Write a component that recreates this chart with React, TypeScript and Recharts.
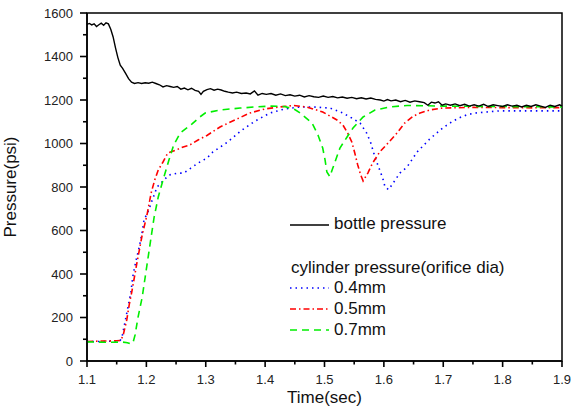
import { LineChart, Line, XAxis, YAxis, ReferenceArea, Legend } from 'recharts'

// time (sec) / pressure (psi)
const bottleTime = [
  1.1, 1.104, 1.108, 1.112, 1.116, 1.12, 1.124, 1.128, 1.132, 1.136, 1.14, 1.144, 1.148, 1.152, 1.156, 1.16,
  1.165, 1.17, 1.175, 1.18, 1.186, 1.192, 1.198, 1.204, 1.21, 1.216, 1.222, 1.228, 1.234, 1.24, 1.246, 1.252,
  1.258, 1.264, 1.27, 1.276, 1.282, 1.288, 1.292, 1.296, 1.302, 1.308, 1.314, 1.32, 1.326, 1.332, 1.338, 1.345,
  1.352, 1.36, 1.368, 1.375, 1.382, 1.388, 1.395, 1.402, 1.41, 1.418, 1.426, 1.434, 1.442, 1.45, 1.458, 1.466,
  1.474, 1.482, 1.49, 1.498, 1.506, 1.514, 1.522, 1.53, 1.538, 1.546, 1.554, 1.562, 1.57, 1.578, 1.586, 1.594,
  1.6, 1.606, 1.612, 1.62, 1.628, 1.636, 1.644, 1.652, 1.66, 1.668, 1.674, 1.68, 1.686, 1.692, 1.698, 1.704,
  1.712, 1.72, 1.728, 1.736, 1.744, 1.752, 1.76, 1.768, 1.776, 1.784, 1.792, 1.8, 1.808, 1.816, 1.824, 1.832,
  1.84, 1.848, 1.856, 1.864, 1.872, 1.88, 1.888, 1.896, 1.9,
]
const bottlePressure = [
  1548, 1552, 1545, 1550, 1538, 1546, 1553, 1544, 1555, 1550, 1525, 1490, 1440, 1395, 1360, 1345,
  1322, 1298, 1282, 1276, 1280, 1276, 1279, 1277, 1282, 1276, 1270, 1260, 1266, 1262, 1258, 1262,
  1250, 1255, 1247, 1254, 1244, 1240, 1226, 1240, 1248, 1252, 1245, 1250, 1246, 1240, 1236, 1232,
  1236, 1230, 1232, 1228, 1242, 1222, 1230, 1226, 1230, 1222, 1228, 1220, 1224, 1218, 1222, 1214,
  1220, 1215, 1212, 1218, 1212, 1216, 1210, 1214, 1208, 1212, 1206, 1210, 1205, 1209, 1203, 1200,
  1195, 1202, 1196, 1200, 1192, 1198, 1190, 1196, 1192, 1188, 1176, 1190, 1186, 1192, 1176, 1182,
  1176, 1182, 1174, 1180, 1172, 1178, 1172, 1180, 1170, 1178, 1174, 1170, 1178, 1172, 1176, 1168,
  1176, 1170, 1178, 1172, 1166, 1176, 1170, 1178, 1172,
]

const d04Time = [
  1.1, 1.13, 1.15, 1.156, 1.159, 1.164, 1.169, 1.174, 1.177, 1.182, 1.188, 1.193, 1.196, 1.204, 1.208, 1.218,
  1.228, 1.238, 1.253, 1.263, 1.275, 1.287, 1.302, 1.312, 1.337, 1.359, 1.383, 1.408, 1.433, 1.459, 1.48, 1.509,
  1.531, 1.546, 1.56, 1.571, 1.578, 1.583, 1.588, 1.593, 1.598, 1.602, 1.608, 1.619, 1.627, 1.639, 1.656, 1.677,
  1.699, 1.714, 1.726, 1.739, 1.753, 1.773, 1.795, 1.85, 1.9,
]
const d04Pressure = [
  90, 90, 92, 95, 110, 179, 248, 317, 386, 455, 524, 593, 648, 694, 726, 800,
  828, 855, 864, 864, 887, 910, 933, 961, 1007, 1058, 1103, 1140, 1159, 1168, 1168, 1163,
  1140, 1117, 1094, 1048, 1002, 956, 915, 878, 841, 800, 788, 832, 864, 892, 961, 1020,
  1071, 1099, 1117, 1131, 1140, 1145, 1150, 1150, 1150,
]

const d05Time = [
  1.1, 1.13, 1.15, 1.157, 1.161, 1.167, 1.171, 1.176, 1.184, 1.193, 1.201, 1.208, 1.214, 1.22, 1.228, 1.236,
  1.25, 1.262, 1.273, 1.287, 1.302, 1.324, 1.349, 1.374, 1.4, 1.425, 1.447, 1.47, 1.497, 1.521, 1.531, 1.539,
  1.546, 1.551, 1.556, 1.561, 1.565, 1.573, 1.581, 1.593, 1.607, 1.622, 1.635, 1.649, 1.661, 1.677, 1.699, 1.75,
  1.8, 1.85, 1.9,
]
const d05Pressure = [
  90, 92, 93, 95, 120, 189, 257, 326, 450, 580, 671, 772, 832, 878, 915, 956,
  970, 984, 993, 1016, 1037, 1076, 1108, 1140, 1159, 1168, 1175, 1168, 1145, 1108, 1085, 1048,
  1007, 956, 901, 855, 828, 864, 910, 961, 1002, 1048, 1094, 1125, 1140, 1154, 1163, 1166,
  1165, 1164, 1165,
]

const d07Time = [
  1.1, 1.13, 1.16, 1.168, 1.174, 1.178, 1.181, 1.186, 1.193, 1.198, 1.203, 1.209, 1.213, 1.22, 1.228, 1.238,
  1.246, 1.257, 1.277, 1.29, 1.299, 1.324, 1.358, 1.383, 1.408, 1.433, 1.45, 1.459, 1.479, 1.489, 1.497, 1.501,
  1.504, 1.509, 1.514, 1.526, 1.538, 1.548, 1.565, 1.585, 1.61, 1.639, 1.7, 1.8, 1.9,
]
const d07Pressure = [
  88, 86, 87, 84, 78, 90, 120, 202, 294, 386, 478, 588, 660, 754, 832, 924,
  993, 1048, 1090, 1122, 1140, 1154, 1163, 1168, 1172, 1170, 1156, 1140, 1094, 1039, 979, 924,
  869, 848, 887, 979, 1030, 1071, 1122, 1154, 1168, 1175, 1172, 1170, 1168,
]

const xTicks = [1.1, 1.15, 1.2, 1.25, 1.3, 1.35, 1.4, 1.45, 1.5, 1.55, 1.6, 1.65, 1.7, 1.75, 1.8, 1.85, 1.9]
const yTicks = [0, 100, 200, 300, 400, 500, 600, 700, 800, 900, 1000, 1100, 1200, 1300, 1400, 1500, 1600]

const zip = (t: number[], p: number[]) => t.map((v, i) => ({ t: v, p: p[i] }))

const bottle = { name: 'bottle pressure', color: '#000000', data: zip(bottleTime, bottlePressure) }
const cylinderTitle = 'cylinder pressure(orifice dia)'
const cylinders = [
  { name: '0.4mm', color: '#0000ff', dash: '1.5 4', data: zip(d04Time, d04Pressure) },
  { name: '0.5mm', color: '#ff0000', dash: '6 3 1.5 3', data: zip(d05Time, d05Pressure) },
  { name: '0.7mm', color: '#00ee00', dash: '7 5', data: zip(d07Time, d07Pressure) },
]

const FONT = '"Liberation Sans", Arial, sans-serif'
const tickLineStyle = { stroke: '#000', strokeWidth: 1.6 }

// tick marks come from recharts (tickSize); minor ones are trimmed, majors get a label
function XTick(props: any) {
  const { x, y, payload } = props
  const major = Math.round(payload.value * 100) % 10 === 0
  if (!major) return <rect x={x - 1.5} y={y - 2.5} width={3} height={3} fill="#fff" />
  return (
    <text x={x} y={y + 17} textAnchor="middle" fontSize={13} fontFamily={FONT} fill="#222">
      {payload.value.toFixed(1)}
    </text>
  )
}

function YTick(props: any) {
  const { x, y, payload } = props
  const major = payload.value % 200 === 0
  if (!major) return <rect x={x - 0.5} y={y - 1.5} width={3.5} height={3} fill="#fff" />
  return (
    <text x={x - 7} y={y + 4.5} textAnchor="end" fontSize={13} fontFamily={FONT} fill="#222">
      {payload.value}
    </text>
  )
}

function Sample({ color, dash, top }: { color: string; dash?: string; top: number }) {
  return (
    <svg width={40} height={4} style={{ position: 'absolute', left: 0, top: top - 2 }}>
      <line x1={0} x2={39} y1={2} y2={2} stroke={color} strokeWidth={1.5} strokeDasharray={dash} />
    </svg>
  )
}

function LegendBox() {
  const txt = (top: number, left: number) =>
    ({ position: 'absolute', left, top, lineHeight: '20px', whiteSpace: 'nowrap' }) as const
  return (
    <div style={{ position: 'relative', width: 275, height: 135, fontFamily: FONT, fontSize: 17, color: '#111' }}>
      <Sample color={bottle.color} top={15} />
      <div style={txt(4, 44)}>{bottle.name}</div>
      <div style={txt(48, 1)}>{cylinderTitle}</div>
      {cylinders.map((s, i) => (
        <div key={s.name}>
          <Sample color={s.color} dash={s.dash} top={78 + i * 21} />
          <div style={txt(68 + i * 21, 44)}>{s.name}</div>
        </div>
      ))}
    </div>
  )
}

export default function App() {
  return (
    <div style={{ position: 'absolute', left: 0, top: 0, background: '#fff' }}>
      <LineChart width={571} height={418} margin={{ top: 13, right: 9, left: 0, bottom: 0 }}>
        <XAxis
          dataKey="t"
          type="number"
          domain={[1.1, 1.9]}
          ticks={xTicks}
          interval={0}
          tickSize={6}
          tickMargin={0}
          tickLine={tickLineStyle}
          tick={(p: any) => <XTick {...p} />}
          height={57}
          axisLine={{ stroke: '#000', strokeWidth: 1.5 }}
          label={{ value: 'Time(sec)', position: 'insideBottom', offset: 15, style: { fontFamily: FONT, fontSize: 17, fill: '#111' } }}
        />
        <YAxis
          type="number"
          domain={[0, 1600]}
          ticks={yTicks}
          interval={0}
          tickSize={7}
          tickMargin={0}
          tickLine={tickLineStyle}
          tick={(p: any) => <YTick {...p} />}
          width={87}
          axisLine={{ stroke: '#000', strokeWidth: 1.5 }}
          label={{ value: 'Pressure(psi)', angle: -90, position: 'insideLeft', offset: 10, style: { textAnchor: 'middle', fontFamily: FONT, fontSize: 17, fill: '#111' } }}
        />
        <ReferenceArea x1={1.1} x2={1.9} y1={0} y2={1600} fill="none" stroke="#000" strokeWidth={1.5} fillOpacity={0} />
        {cylinders.map((s) => (
          <Line
            key={s.name}
            data={s.data}
            dataKey="p"
            name={s.name}
            type="linear"
            stroke={s.color}
            strokeWidth={1.6}
            strokeDasharray={s.dash}
            dot={false}
            isAnimationActive={false}
          />
        ))}
        <Line
          data={bottle.data}
          dataKey="p"
          name={bottle.name}
          type="linear"
          stroke={bottle.color}
          strokeWidth={1.4}
          dot={false}
          isAnimationActive={false}
        />
        <Legend
          layout="vertical"
          verticalAlign="middle"
          align="center"
          wrapperStyle={{ left: 290, top: 210, width: 275, height: 135 }}
          content={() => <LegendBox />}
        />
      </LineChart>
    </div>
  )
}
